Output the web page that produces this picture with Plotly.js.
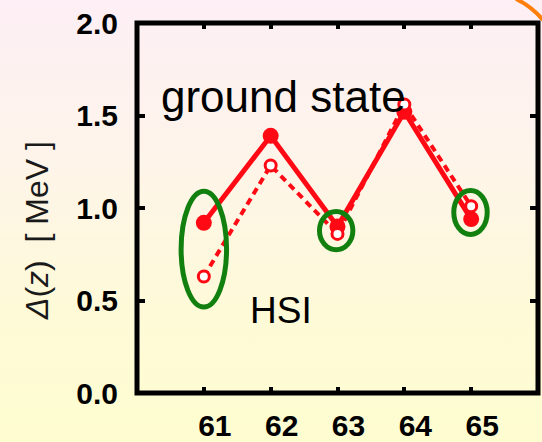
<!DOCTYPE html>
<html><head><meta charset="utf-8">
<script src="https://cdn.plot.ly/plotly-3.0.1.min.js"></script>
<style>
html,body{margin:0;padding:0;}
#chart{width:542px;height:442px;background:linear-gradient(to bottom,#fdeff5 0%,#fef4ea 35%,#fefad8 70%,#fefdd0 100%);}
</style></head><body><div id="chart"></div>
<script>
// data
const categories = [61, 62, 63, 64, 65];
const xTickLabels = ['61', '62', '63', '64', '65'];
const groundState = [0.92, 1.39, 0.90, 1.52, 0.94];
const hsi = [0.63, 1.23, 0.86, 1.56, 1.01];
const yTickVals = [0, 0.5, 1.0, 1.5, 2.0];
const yTickLabels = ['0.0', '0.5', '1.0', '1.5', '2.0'];
const yTitle = '<i>Δ</i>(<i>z</i>)\u00a0\u00a0[ MeV ]';

const W = 542, H = 442;
const M = {l: 137, r: 4, t: 23, b: 49};
const pw = W - M.l - M.r, ph = H - M.t - M.b;
function px2paperX(px) { return (px - M.l) / pw; }
function px2paperY(py) { return (H - M.b - py) / ph; }

const red = '#ff0a14';
const green = '#11800f';

const traces = [
  {
    x: categories, y: groundState, type: 'scatter', mode: 'lines+markers',
    line: {color: red, width: 5},
    marker: {color: red, size: 16},
    cliponaxis: false, hoverinfo: 'none'
  },
  {
    x: categories, y: hsi, type: 'scatter', mode: 'lines+markers',
    line: {color: red, width: 4, dash: '7px,5px'},
    marker: {color: 'white', size: 11, line: {color: red, width: 3}},
    cliponaxis: false, hoverinfo: 'none'
  }
];

const arcPath = 'M ' + px2paperX(516) + ' ' + px2paperY(-1) +
  ' Q ' + px2paperX(531) + ' ' + px2paperY(6) + ' ' + px2paperX(543) + ' ' + px2paperY(20);

const layout = {
  width: W, height: H,
  margin: M,
  paper_bgcolor: 'rgba(0,0,0,0)',
  plot_bgcolor: 'rgba(0,0,0,0)',
  showlegend: false,
  font: {family: 'Liberation Sans, Arial, sans-serif', color: '#000'},
  xaxis: {
    range: [60, 66], tickvals: categories, ticktext: xTickLabels,
    showgrid: false, zeroline: false, showline: false,
    ticks: 'inside', ticklen: 6, tickwidth: 4, tickcolor: '#000', mirror: 'ticks',
    tickfont: {size: 30, family: 'Liberation Sans, Arial, sans-serif', weight: 'bold', color: '#000'},
    ticklabelshift: 11, ticklabelstandoff: 12, fixedrange: true
  },
  yaxis: {
    range: [0, 2], tickvals: yTickVals, ticktext: yTickLabels,
    showgrid: false, zeroline: false, showline: false,
    ticks: 'inside', ticklen: 8, tickwidth: 4, tickcolor: '#000', mirror: 'ticks',
    tickfont: {size: 30, family: 'Liberation Sans, Arial, sans-serif', weight: 'bold', color: '#000'},
    ticklabelstandoff: 18,
    fixedrange: true
  },
  shapes: [
    {type: 'rect', xref: 'paper', yref: 'paper', x0: 0, x1: 1, y0: 0, y1: 1,
     line: {color: '#000', width: 5}, layer: 'above'},
    {type: 'circle', xref: 'x', yref: 'y', x0: 60.66, x1: 61.34, y0: 0.465, y1: 1.09,
     line: {color: green, width: 5}, layer: 'above'},
    {type: 'circle', xref: 'x', yref: 'y', x0: 62.73, x1: 63.23, y0: 0.775, y1: 0.981,
     line: {color: green, width: 5}, layer: 'above'},
    {type: 'circle', xref: 'x', yref: 'y', x0: 64.74, x1: 65.24, y0: 0.857, y1: 1.095,
     line: {color: green, width: 5}, layer: 'above'},
    {type: 'path', xref: 'paper', yref: 'paper', path: arcPath,
     line: {color: '#ff7f0a', width: 4}, layer: 'above'}
  ],
  annotations: [
    {x: 62.19, y: 1.605, xref: 'x', yref: 'y', text: 'ground state', showarrow: false,
     font: {size: 44, color: '#000'}, xanchor: 'center', yanchor: 'middle'},
    {x: 62.16, y: 0.446, xref: 'x', yref: 'y', text: 'HSI', showarrow: false,
     font: {size: 37, color: '#000'}, xanchor: 'center', yanchor: 'middle'},
    {x: px2paperX(37), y: px2paperY(231), xref: 'paper', yref: 'paper', text: yTitle,
     showarrow: false, textangle: -90, font: {size: 32, color: '#1a1a1a'},
     xanchor: 'center', yanchor: 'middle'}
  ]
};

Plotly.newPlot('chart', traces, layout, {displayModeBar: false, staticPlot: true});
</script></body></html>
